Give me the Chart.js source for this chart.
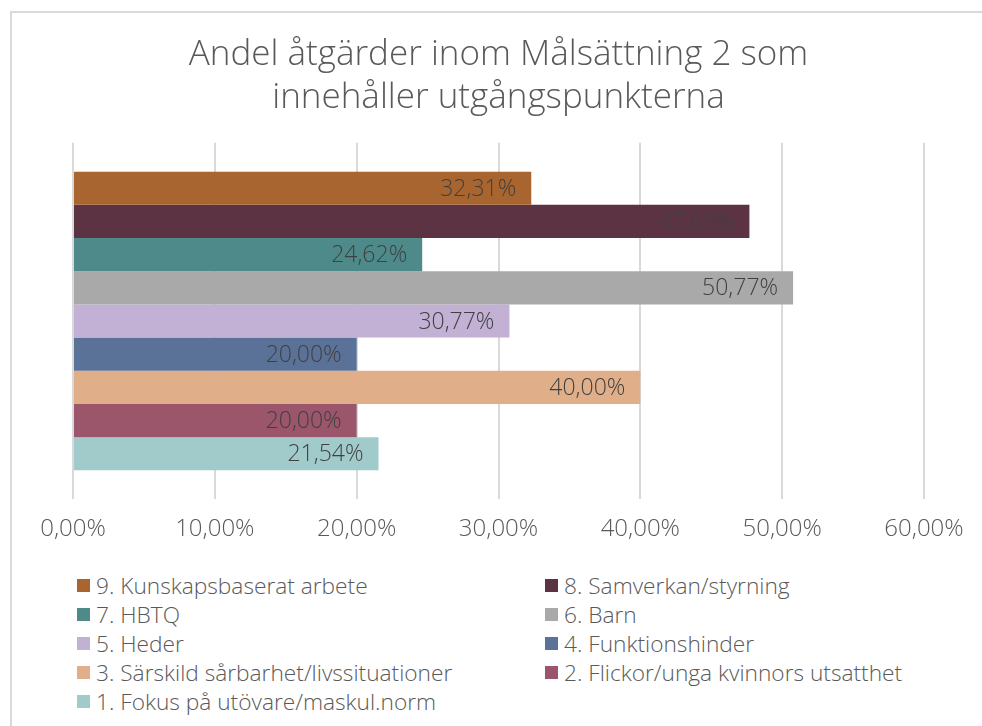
<!DOCTYPE html>
<html lang="sv">
<head>
<meta charset="utf-8">
<script src="https://cdn.jsdelivr.net/npm/chart.js@4/dist/chart.umd.min.js"></script>
<style>
    html, body { margin: 0; padding: 0; background: #fff; overflow: hidden; }
    body { width: 982px; height: 726px; position: relative; font-family: "Open Sans", sans-serif; }
    #ram { position: absolute; left: 10px; top: 11px; width: 1000px; height: 760px; border: 2px solid #d9d9d9; box-sizing: border-box; }
    #wrap { position: absolute; left: 0; top: 0; width: 982px; height: 560px; }
    #legend { position: absolute; left: 77px; top: 571px; width: 880px; display: grid; grid-template-columns: 468px auto; }
    #legend div { display: flex; align-items: center; height: 29px; font-size: 22.7px; font-weight: 300; color: #595959; white-space: nowrap; }
    #legend span { display: inline-block; width: 13px; height: 13px; margin-right: 6px; }
</style>
</head>
<body>
<div id="ram"></div>
<div id="wrap"><canvas id="chartMalsattning" width="982" height="560"></canvas></div>
<div id="legend"></div>
<script>
// Serierna i samma ordning som i diagrammet (översta stapeln först)
const serieNamn = [
    '9. Kunskapsbaserat arbete',
    '8. Samverkan/styrning',
    '7. HBTQ',
    '6. Barn',
    '5. Heder',
    '4. Funktionshinder',
    '3. Särskild sårbarhet/livssituationer',
    '2. Flickor/unga kvinnors utsatthet',
    '1. Fokus på utövare/maskul.norm'
];
const andelar = [32.31, 47.69, 24.62, 50.77, 30.77, 20.00, 40.00, 20.00, 21.54];
const farger = ['#A9652F', '#5C3343', '#4E8A8A', '#A9A9A9', '#C2B0D5', '#5B7298', '#E0AF8A', '#9B566C', '#A0CBCA'];
const kategorier = [''];
const xTicks = [0, 10, 20, 30, 40, 50, 60];

const formatProcent = v => v.toFixed(2).replace('.', ',') + '%';

// Etiketter innanför stapelns ände
const etikettPlugin = {
    id: 'etiketter',
    afterDatasetsDraw(chart) {
        const ctx = chart.ctx;
        ctx.save();
        ctx.font = '300 23px "Open Sans"';
        ctx.fillStyle = '#404040';
        ctx.textAlign = 'right';
        ctx.textBaseline = 'middle';
        chart.data.datasets.forEach((ds, i) => {
            chart.getDatasetMeta(i).data.forEach((bar, j) => {
                ctx.fillText(formatProcent(ds.data[j]), bar.x - 15, bar.y + 1);
            });
        });
        ctx.restore();
    }
};

const chart = new Chart(document.getElementById('chartMalsattning'), {
    type: 'bar',
    data: {
        labels: kategorier,
        datasets: serieNamn.map((namn, i) => ({
            label: namn,
            data: [andelar[i]],
            backgroundColor: farger[i],
            barPercentage: 1,
            categoryPercentage: 0.838
        }))
    },
    options: {
        indexAxis: 'y',
        responsive: false,
        animation: false,
        layout: { padding: { left: 73, right: 58, top: 0, bottom: 0 } },
        plugins: {
            legend: { display: false },
            tooltip: { enabled: false },
            title: {
                display: true,
                text: ['Andel åtgärder inom Målsättning 2 som', 'innehåller utgångspunkterna'],
                color: '#595959',
                font: { family: '"Open Sans"', size: 35, weight: '300', lineHeight: 1.24 },
                padding: { top: 33, bottom: 23 }
            }
        },
        scales: {
            x: {
                min: 0,
                max: 60,
                afterBuildTicks: axis => { axis.ticks = xTicks.map(v => ({ value: v })); },
                grid: { color: '#d9d9d9', lineWidth: 2, drawTicks: false },
                border: { display: false },
                ticks: {
                    color: '#595959',
                    padding: 16,
                    font: { family: '"Open Sans"', size: 24, weight: '300' },
                    callback: v => formatProcent(v)
                }
            },
            y: { display: false }
        }
    },
    plugins: [etikettPlugin]
});

// Förklaring i två kolumner
const legend = document.getElementById('legend');
chart.data.datasets.forEach(ds => {
    const rad = document.createElement('div');
    rad.innerHTML = '<span style="background:' + ds.backgroundColor + '"></span>' + ds.label;
    legend.appendChild(rad);
});
</script>
</body>
</html>
